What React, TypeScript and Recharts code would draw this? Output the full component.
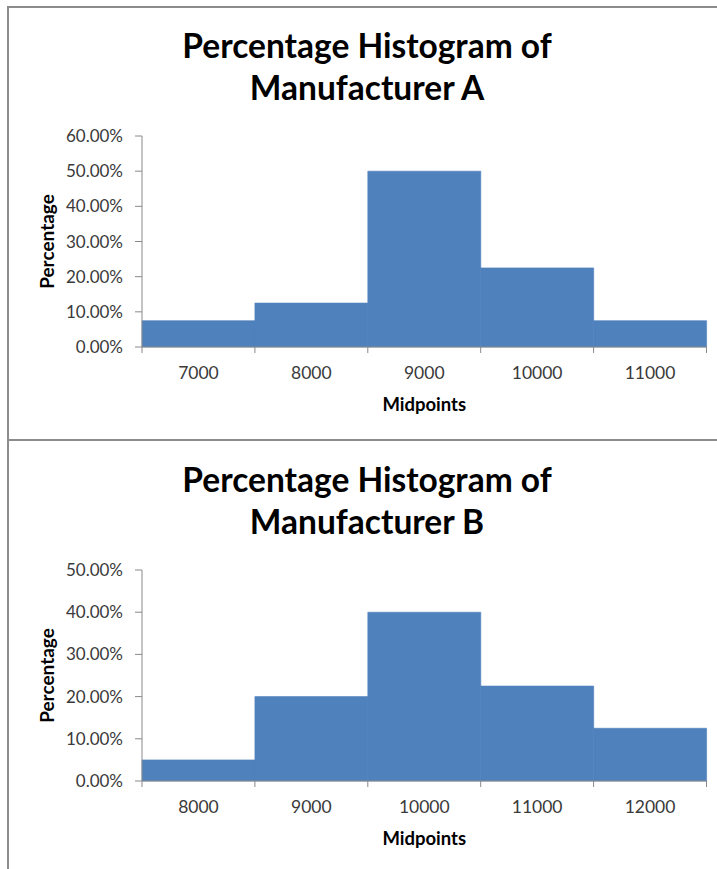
import { Bar, BarChart, XAxis, YAxis } from 'recharts'

const midpointsA = [7000, 8000, 9000, 10000, 11000]
const percentA = [0.075, 0.125, 0.5, 0.225, 0.075]
const yTicksA = [0, 0.1, 0.2, 0.3, 0.4, 0.5, 0.6]

const midpointsB = [8000, 9000, 10000, 11000, 12000]
const percentB = [0.05, 0.2, 0.4, 0.225, 0.125]
const yTicksB = [0, 0.1, 0.2, 0.3, 0.4, 0.5]

const BAR = '#4F81BD'
const AXIS = '#898989'
const TEXT = '#3a3a3a'
const FONT = 'Lato, "Open Sans", sans-serif'
const TICK_SIZE = 6
const TICK_MARGIN = 20

function EdgeTick(props: any) {
  const { x, y, payload, width, visibleTicksCount, index } = props
  const half = payload.offset ? payload.offset : width / visibleTicksCount / 2
  const y0 = y - TICK_SIZE - TICK_MARGIN
  return (
    <g>
      <line x1={x - half} x2={x - half} y1={y0} y2={y0 + TICK_SIZE} stroke={AXIS} />
      {index === visibleTicksCount - 1 && (
        <line x1={x + half} x2={x + half} y1={y0} y2={y0 + TICK_SIZE} stroke={AXIS} />
      )}
      <text x={x} y={y} dy="0.355em" textAnchor="middle" fill={TEXT} fontSize={17.5} fontFamily={FONT}>
        {payload.value}
      </text>
    </g>
  )
}

function YTitle(props: any) {
  const { x, y, height } = props.viewBox
  const cx = x + 47
  const cy = y + height / 2
  return (
    <text
      x={cx}
      y={cy}
      dy="0.355em"
      transform={`rotate(-90, ${cx}, ${cy})`}
      textAnchor="middle"
      fontWeight="bold"
      fontSize={19}
      fontFamily={FONT}
      fill="#000"
    >
      Percentage
    </text>
  )
}

function XTitle(props: any) {
  const { x, y, width } = props.viewBox
  return (
    <text
      x={x + width / 2}
      y={y + 57}
      dy="0.355em"
      textAnchor="middle"
      fontWeight="bold"
      fontSize={18.5}
      fontFamily={FONT}
      fill="#000"
    >
      Midpoints
    </text>
  )
}

function Histogram({ mids, pcts, ticks, top }: { mids: number[]; pcts: number[]; ticks: number[]; top: number }) {
  const data = mids.map((mid, i) => ({ mid, pct: pcts[i] }))
  return (
    <div style={{ position: 'absolute', left: 0, top }}>
      <BarChart width={717} height={340} data={data} barCategoryGap={0} barGap={0} margin={{ top: 36, right: 10.5, left: 0, bottom: 0 }}>
        <XAxis
          dataKey="mid"
          height={93}
          axisLine={{ stroke: AXIS }}
          tickLine={false}
          tickSize={TICK_SIZE}
          tickMargin={TICK_MARGIN}
          interval={0}
          tick={<EdgeTick />}
          label={<XTitle />}
        />
        <YAxis
          width={142}
          domain={[0, ticks[ticks.length - 1]]}
          ticks={ticks}
          interval={0}
          tickFormatter={(v: number) => `${(v * 100).toFixed(2)}%`}
          axisLine={{ stroke: AXIS }}
          tickLine={{ stroke: AXIS }}
          tickSize={7}
          tickMargin={12}
          tick={{ fill: TEXT, fontSize: 17, fontFamily: FONT }}
          label={<YTitle />}
        />
        <Bar dataKey="pct" fill={BAR} stroke={BAR} strokeWidth={0.6} isAnimationActive={false} />
      </BarChart>
    </div>
  )
}

function Title({ name, top }: { name: string; top: number }) {
  return (
    <div
      style={{
        position: 'absolute',
        left: 7,
        width: 720,
        top,
        textAlign: 'center',
        fontFamily: FONT,
        fontWeight: 'bold',
        fontSize: 33.5,
        lineHeight: '42px',
        color: '#000',
      }}
    >
      Percentage Histogram of
      <br />
      {name}
    </div>
  )
}

export default function App() {
  return (
    <div style={{ position: 'fixed', left: 0, top: 0, width: 717, height: 869, overflow: 'hidden', background: '#fff', fontFamily: FONT }}>
      <div style={{ position: 'absolute', left: 7, top: 6, width: 722, height: 435, border: '2px solid #8c8c8c', boxSizing: 'border-box' }} />
      <div style={{ position: 'absolute', left: 7, top: 439, width: 722, height: 500, border: '2px solid #8c8c8c', boxSizing: 'border-box' }} />
      <Title name="Manufacturer A" top={24} />
      <Histogram mids={midpointsA} pcts={percentA} ticks={yTicksA} top={100} />
      <Title name="Manufacturer B" top={458} />
      <Histogram mids={midpointsB} pcts={percentB} ticks={yTicksB} top={534} />
    </div>
  )
}
